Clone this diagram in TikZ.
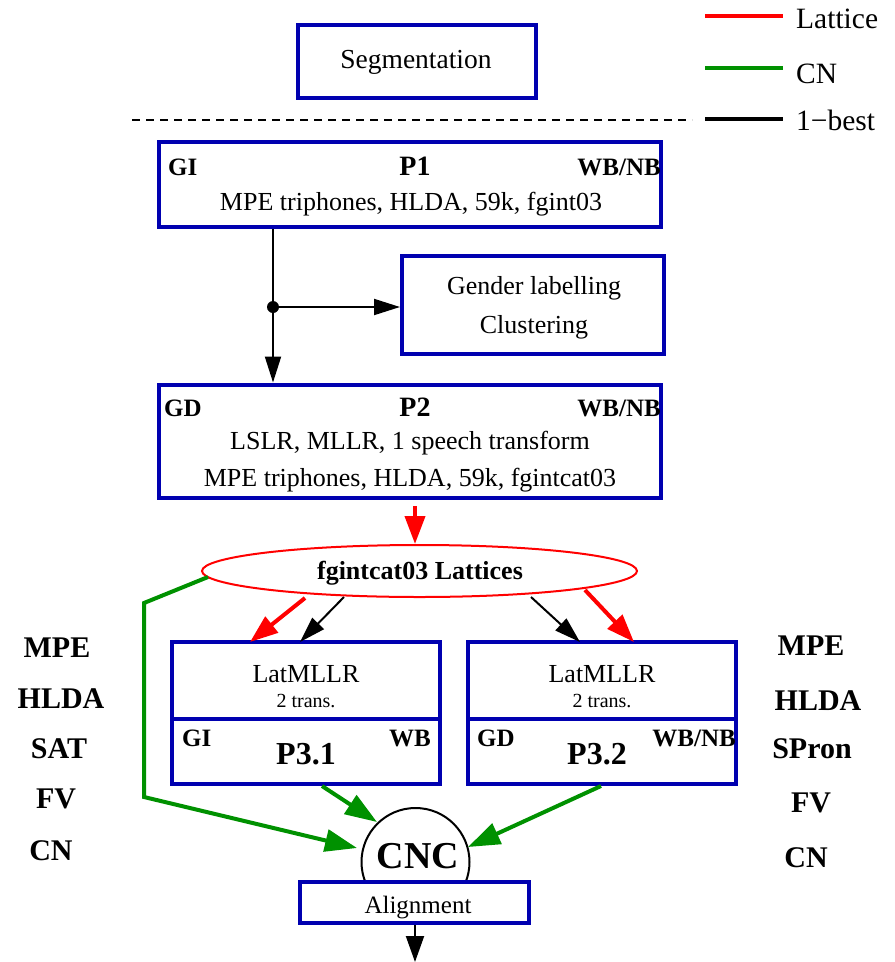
\documentclass[tikz,border=0pt]{standalone}
\usepackage{fontspec}
\setmainfont{Liberation Serif}
\usetikzlibrary{arrows.meta,shapes.geometric}
\definecolor{boxblue}{RGB}{0,0,176}
\definecolor{cngreen}{RGB}{0,145,0}
\definecolor{latred}{RGB}{255,0,0}
\begin{document}
\begin{tikzpicture}[x=1pt,y=-1pt,
  bbox/.style={draw=boxblue,line width=4pt,fill=white,inner sep=0pt},
  txt/.style={inner sep=0pt,anchor=base,font=\fontsize{26}{30}\selectfont},
  smalltxt/.style={inner sep=0pt,anchor=base,font=\fontsize{20}{24}\selectfont},
  midtxt/.style={inner sep=0pt,anchor=base,font=\fontsize{25}{29}\selectfont},
  legtxt/.style={inner sep=0pt,anchor=base west,font=\fontsize{29.5}{33}\selectfont},
  btxt/.style={inner sep=0pt,anchor=base,font=\fontsize{25}{29}\selectfont\bfseries},
  ptxt/.style={inner sep=0pt,anchor=base,font=\fontsize{28}{32}\selectfont\bfseries},
  pbig/.style={inner sep=0pt,anchor=base,font=\fontsize{32}{36}\selectfont\bfseries},
  side/.style={inner sep=0pt,anchor=base,font=\fontsize{30}{34}\selectfont\bfseries},
  blk/.style={draw=black,line width=2pt},
  blkarrow/.style={blk,-{Triangle[length=26pt,width=16pt]}},
  redarrow/.style={draw=latred,line width=4pt,-{Triangle[length=28pt,width=20pt]}},
  grnarrow/.style={draw=cngreen,line width=4pt,-{Triangle[length=32pt,width=22pt]}},
]
\useasboundingbox (0,0) rectangle (895,962);

% legend
\coordinate (lg1a) at (705,16); \coordinate (lg1b) at (783,16);
\coordinate (lg2a) at (705,68); \coordinate (lg2b) at (783,68);
\coordinate (lg3a) at (705,119); \coordinate (lg3b) at (783,119);
\draw[latred,line width=3.5pt] (lg1a) -- (lg1b);
\draw[cngreen,line width=4pt] (lg2a) -- (lg2b);
\draw[black,line width=4.5pt] (lg3a) -- (lg3b);
\node[legtxt] (lgt1) at (796,28) {Lattice};
\node[legtxt] (lgt2) at (796,83) {CN};
\node[legtxt] (lgt3) at (796,130) {1\char"2212 best};

% segmentation
\node[bbox,minimum width=238pt,minimum height=73pt] (seg) at (417,61.5) {};
\node[txt,font=\fontsize{27.5}{31}\selectfont] (segt) at (416,68) {Segmentation};

% dashed separator
\coordinate (dl) at (132,120); \coordinate (dr) at (692,120);
\draw[black,line width=2pt,dash pattern=on 8pt off 6pt] (dl) -- (dr);

% P1
\node[bbox,minimum width=502pt,minimum height=85pt] (p1) at (410,184) {};
\node[btxt,anchor=base west] (p1gi) at (168,175) {GI};
\node[ptxt] (p1t) at (415,175) {P1};
\node[btxt,anchor=base east] (p1wb) at (661,175) {WB/NB};
\node[txt] (p1d) at (411,210) {MPE triphones, HLDA, 59k, fgint03};

% gender
\node[bbox,minimum width=262pt,minimum height=98pt] (gen) at (533,305) {};
\node[txt] (gen1) at (534,294) {Gender labelling};
\node[txt] (gen2) at (534,333) {Clustering};

% P2
\node[bbox,minimum width=502pt,minimum height=113pt] (p2) at (410,441) {};
\node[btxt,anchor=base west] (p2gd) at (164,416) {GD};
\node[ptxt] (p2t) at (415,416) {P2};
\node[btxt,anchor=base east] (p2wb) at (661,416) {WB/NB};
\node[txt] (p2d1) at (410,449) {LSLR, MLLR, 1 speech transform};
\node[txt] (p2d2) at (410,486) {MPE triphones, HLDA, 59k, fgintcat03};

% P1 -> P2 with junction
\node[circle,fill=black,inner sep=0pt,minimum size=12pt] (dot) at (273,307) {};
\draw[blk] (p1.south -| dot) -- (dot);
\draw[blkarrow] (dot) -- (p2.north -| dot);
\draw[blkarrow] (dot) -- (gen.west |- dot);

% lattices ellipse
\node[ellipse,draw=latred,line width=2pt,fill=white,inner sep=0pt,minimum width=435pt,minimum height=52pt] (lat) at (419.5,571) {};
\node[btxt,font=\fontsize{26}{30}\selectfont\bfseries] (latt) at (420,579) {fgintcat03 Lattices};
\coordinate (r0) at (415,506);
\draw[redarrow] (r0) -- (lat.north -| r0);

% P3.1
\node[bbox,minimum width=268pt,minimum height=77pt] (p31a) at (306,680.5) {};
\node[bbox,minimum width=268pt,minimum height=65pt] (p31b) at (306,751.5) {};
\node[txt] (p31l) at (306,682) {LatMLLR};
\node[smalltxt] (p31s) at (306,707) {2 trans.};
\node[btxt,anchor=base west] (p31gi) at (182,746) {GI};
\node[btxt,anchor=base east] (p31wb) at (431,746) {WB};
\node[pbig] (p31t) at (306,764) {P3.1};

% P3.2
\node[bbox,minimum width=268pt,minimum height=77pt] (p32a) at (602,680.5) {};
\node[bbox,minimum width=268pt,minimum height=65pt] (p32b) at (602,751.5) {};
\node[txt] (p32l) at (602,682) {LatMLLR};
\node[smalltxt] (p32s) at (602,707) {2 trans.};
\node[btxt,anchor=base west] (p32gd) at (477,746) {GD};
\node[btxt,anchor=base east] (p32wb) at (736,746) {WB/NB};
\node[pbig] (p32t) at (597,764) {P3.2};

% lattice -> P3 arrows
\coordinate (ra1) at (305,598); \coordinate (ra2) at (250,642);
\coordinate (ba1) at (344,597); \coordinate (ba2) at (300,642);
\coordinate (ba3) at (531,597); \coordinate (ba4) at (580,642);
\coordinate (ra3) at (585,590); \coordinate (ra4) at (634,642);
\draw[redarrow] (ra1) -- (ra2);
\draw[blkarrow] (ba1) -- (ba2);
\draw[blkarrow] (ba3) -- (ba4);
\draw[redarrow] (ra3) -- (ra4);

% side labels
\node[side] (l1) at (57,657) {MPE};
\node[side] (l2) at (61,708) {HLDA};
\node[side] (l3) at (59,758) {SAT};
\node[side] (l4) at (56,808) {FV};
\node[side] (l5) at (51,860) {CN};
\node[side] (r1) at (811,655) {MPE};
\node[side] (r2) at (818,710) {HLDA};
\node[side] (r3) at (812,758) {SPron};
\node[side] (r4) at (811,812) {FV};
\node[side] (r5) at (806,867) {CN};

% CNC
\node[circle,draw=black,line width=2pt,fill=white,inner sep=0pt,minimum size=108pt] (cnc) at (415.5,862) {};
\node[inner sep=0pt,anchor=base,font=\fontsize{38}{42}\selectfont\bfseries] (cnct) at (418,868) {CNC};
\node[bbox,minimum width=229pt,minimum height=41pt] (align) at (414.5,902.5) {};
\node[midtxt] (alignt) at (418,913) {Alignment};
\coordinate (out) at (415,962);
\draw[blkarrow,-{Triangle[length=26pt,width=18pt]}] (align.south -| out) -- (out);

% green connections
\coordinate (g1) at (322,786); \coordinate (g1e) at (377,822);
\coordinate (g2) at (601,786); \coordinate (g2e) at (468,847);
\coordinate (gl0) at (208,577); \coordinate (gl1) at (144,603);
\coordinate (gl2) at (144,797); \coordinate (gle) at (357,848);
\draw[grnarrow] (g1) -- (g1e);
\draw[grnarrow] (g2) -- (g2e);
\draw[grnarrow,line join=miter] (gl0) -- (gl1) -- (gl2) -- (gle);
\end{tikzpicture}
\end{document}
